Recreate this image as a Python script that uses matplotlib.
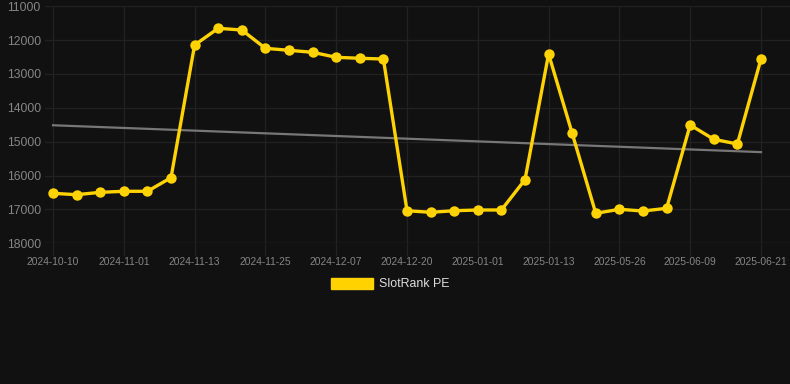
import matplotlib
matplotlib.use("Agg")
import matplotlib.pyplot as plt
import numpy as np
from matplotlib.patches import Rectangle

dates = ["2024-10-10", "2024-10-17", "2024-10-24", "2024-11-01", "2024-11-05", "2024-11-09",
         "2024-11-13", "2024-11-17", "2024-11-21", "2024-11-25", "2024-11-29", "2024-12-03",
         "2024-12-07", "2024-12-12", "2024-12-16", "2024-12-20", "2024-12-24", "2024-12-28",
         "2025-01-01", "2025-01-05", "2025-01-09", "2025-01-13", "2025-05-18", "2025-05-22",
         "2025-05-26", "2025-05-30", "2025-06-03", "2025-06-09", "2025-06-13", "2025-06-17",
         "2025-06-21"]
values = [16524, 16565, 16495, 16465, 16465, 16063, 12146, 11652, 11703, 12243, 12302,
          12361, 12509, 12538, 12559, 17038, 17085, 17038, 17017, 17017, 16122, 12411,
          14753, 17115, 16996, 17047, 16967, 14507, 14930, 15068, 12559]
yticks = [11000, 12000, 13000, 14000, 15000, 16000, 17000, 18000]
series_name = "SlotRank PE"

bg = "#111111"
fig = plt.figure(figsize=(7.9, 3.84), dpi=100, facecolor=bg)
ax = fig.add_axes([45/790, 1 - 243.3/384, 1 - 45/790, (243.3 - 6.2)/384])
ax.set_facecolor(bg)

x = np.arange(len(values))
coef = np.polyfit(x, values, 1)
ax.plot(x, np.polyval(coef, x), color="#777777", lw=1.6, zorder=2)
ax.plot(x, values, color="#FFD200", lw=2.4, marker="o", markersize=7.5,
        markeredgewidth=0, zorder=3, label=series_name)

ax.set_ylim(18000, 11000)
ax.set_yticks(yticks)
ax.set_xlim(-0.34, 31.23)
ax.set_xticks(x[::3])
ax.set_xticklabels([dates[i] for i in range(0, len(dates), 3)])
ax.grid(True, color="#222222", lw=0.9)
for s in ax.spines.values():
    s.set_visible(False)
ax.axhline(18000, color="#2a2a2a", lw=1, zorder=1)
ax.tick_params(axis="y", length=0, pad=3, labelsize=8.7, labelcolor="#858585")
ax.tick_params(axis="x", length=9, width=0.9, color="#222222", pad=1,
               labelsize=7.4, labelcolor="#858585")
for lab in ax.get_xticklabels() + ax.get_yticklabels():
    lab.set_fontfamily("Liberation Sans")

handle = Rectangle((0, 0), 1, 1, color="#FFD200")
leg = fig.legend([handle], [series_name], loc="center", bbox_to_anchor=(390/790, 1 - 284/384),
                 frameon=False, handlelength=3.4, handleheight=1.0, handletextpad=0.5,
                 prop={"family": "Liberation Sans", "size": 8.9})
for t in leg.get_texts():
    t.set_color("#dddddd")

fig.savefig("out.png", dpi=100, facecolor=bg)
